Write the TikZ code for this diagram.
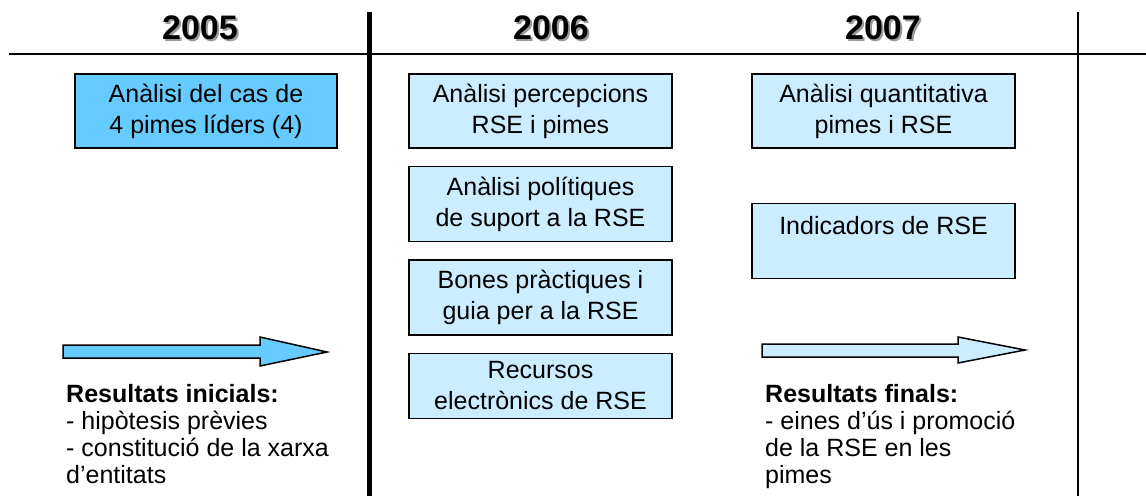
\documentclass[tikz,border=0pt]{standalone}
\usepackage{fontspec}
\setmainfont{Liberation Sans}
\usepackage[HTML]{xcolor}
\usetikzlibrary{positioning}

\definecolor{darkbox}{HTML}{66CCFF}
\definecolor{lightbox}{HTML}{CCECFF}
\definecolor{shadowgray}{HTML}{9A9A9A}

\tikzset{
  cell/.style={draw, line width=1.5pt, minimum width=263pt, minimum height=75pt,
    inner sep=0pt, align=center, font=\fontsize{25}{31}\selectfont},
  yearlabel/.style={font=\fontsize{34}{40}\selectfont\bfseries, inner sep=0pt, anchor=base},
  resultlabel/.style={font=\fontsize{25}{27}\selectfont, inner sep=0pt, align=left, anchor=north west},
  blockarrow/.style={draw, line width=1.5pt, line join=miter}
}

\begin{document}
\begin{tikzpicture}[x=1pt,y=-1pt]
\useasboundingbox (0,0) rectangle (1146,500);

% time axis
\draw[line width=2pt] (9,54) -- (1146,54);
\draw[line width=5pt] (369,12) -- (369,496);
\draw[line width=2.5pt] (1078,12) -- (1078,496);

% years
\node[yearlabel, text=shadowgray] (y05s) at (202,42) {2005};
\node[yearlabel] (y05) at (200,40) {2005};
\node[yearlabel, text=shadowgray] (y06s) at (553,42) {2006};
\node[yearlabel] (y06) at (551,40) {2006};
\node[yearlabel, text=shadowgray] (y07s) at (885,42) {2007};
\node[yearlabel] (y07) at (883,40) {2007};

% 2005
\node[cell, fill=darkbox, minimum width=262pt, minimum height=74pt] (cas) at (206,111) {Anàlisi del cas de\\4 pimes líders (4)};

% 2006
\node[cell, fill=lightbox, minimum height=74pt] (perc) at (540.5,111) {Anàlisi percepcions\\RSE i pimes};
\node[cell, fill=lightbox, below=17pt of perc] (polit) {Anàlisi polítiques\\de suport a la RSE};
\node[cell, fill=lightbox, below=17pt of polit] (bones) {Bones pràctiques i\\guia per a la RSE};
\node[cell, fill=lightbox, below=17pt of bones, minimum height=65pt] (recur) {Recursos\\electrònics de RSE};

% 2007
\node[cell, fill=lightbox, minimum height=74pt] (quant) at (883.5,111) {Anàlisi quantitativa\\pimes i RSE};
\node[cell, fill=lightbox, below=54pt of quant] (indic) {Indicadors de RSE\\\mbox{}};

% arrows
\draw[blockarrow, fill=darkbox] (63,345) -- (260,345) -- (260,337) -- (327,352)
  -- (260,366) -- (260,358) -- (63,358) -- cycle;
\draw[blockarrow, fill=lightbox] (762,344) -- (958,344) -- (958,337) -- (1025,350)
  -- (958,363) -- (958,357) -- (762,357) -- cycle;

% results
\node[resultlabel] (inici) at (66,384) {\textbf{Resultats inicials:}\\- hipòtesis prèvies\\- constitució de la xarxa\\d’entitats};
\node[resultlabel] (final) at (765,384) {\textbf{Resultats finals:}\\- eines d’ús i promoció\\de la RSE en les\\pimes};
\end{tikzpicture}
\end{document}
